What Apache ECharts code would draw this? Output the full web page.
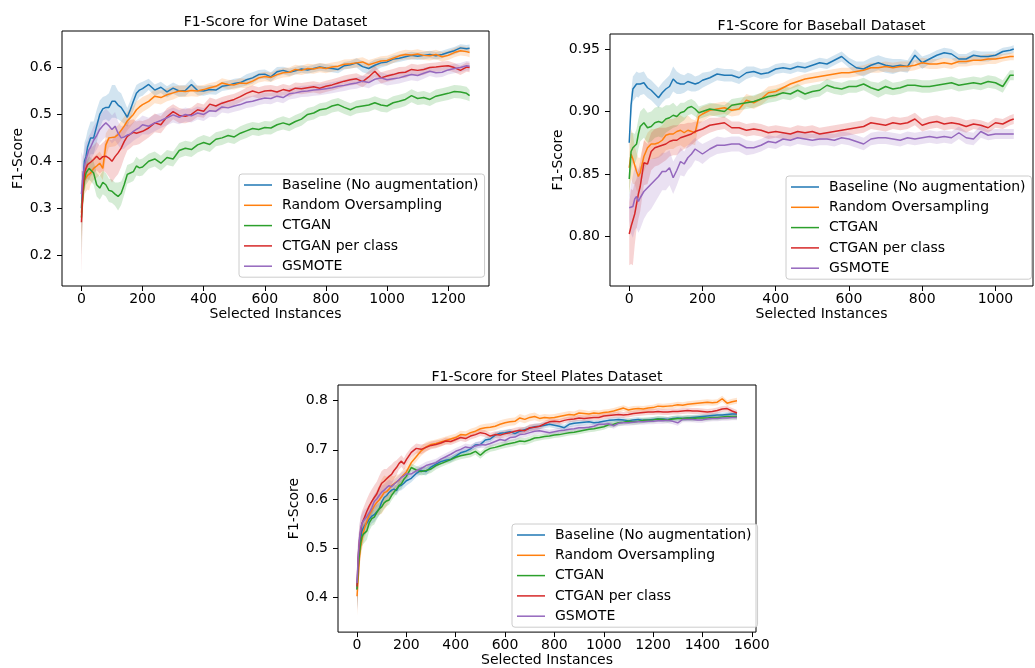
<!DOCTYPE html>
<html>
<head>
<meta charset="utf-8">
<script src="https://cdn.jsdelivr.net/npm/echarts@6/dist/echarts.min.js"></script>
<style>
  html, body { margin: 0; padding: 0; background: #fff; }
  #chart { width: 1035px; height: 668px; }
</style>
</head>
<body>
<div id="chart"></div>
<script>
// F1-Score curves (mean line + shaded spread) for three datasets
var methods = ['Baseline (No augmentation)', 'Random Oversampling', 'CTGAN', 'CTGAN per class', 'GSMOTE'];
var colors = ['#1f77b4', '#ff7f0e', '#2ca02c', '#d62728', '#9467bd'];

// ---- Wine ----
var wineX = [0,5,10,15,20,25,30,40,50,60,
  70,80,90,100,110,120,130,140,150,160,
  170,180,190,200,220,240,260,280,300,320,
  340,360,380,400,420,440,460,480,500,520,
  540,560,580,600,620,640,660,680,700,720,
  740,760,780,800,820,840,860,880,900,920,
  940,960,980,1000,1020,1040,1060,1080,1100,1120,
  1140,1160,1180,1200,1220,1240,1260,1270];
var wineBase = [0.30,0.36,0.40,0.41,0.43,0.44,0.45,0.45,0.475,0.50,
  0.512,0.515,0.515,0.528,0.528,0.52,0.515,0.505,0.494,0.51,
  0.528,0.545,0.552,0.555,0.564,0.552,0.558,0.548,0.556,0.55,
  0.551,0.564,0.551,0.55,0.553,0.552,0.56,0.562,0.566,0.568,
  0.574,0.578,0.585,0.586,0.58,0.591,0.594,0.59,0.593,0.597,
  0.595,0.598,0.601,0.599,0.598,0.596,0.604,0.606,0.61,0.602,
  0.598,0.605,0.61,0.612,0.618,0.62,0.623,0.626,0.624,0.626,
  0.628,0.625,0.628,0.632,0.636,0.642,0.64,0.641];
var wineRos = [0.29,0.33,0.36,0.365,0.37,0.368,0.375,0.385,0.39,0.396,
  0.385,0.435,0.45,0.451,0.452,0.457,0.466,0.475,0.486,0.493,
  0.5,0.51,0.516,0.521,0.528,0.539,0.536,0.542,0.546,0.55,
  0.549,0.551,0.55,0.553,0.557,0.56,0.567,0.564,0.563,0.567,
  0.566,0.571,0.578,0.581,0.579,0.585,0.589,0.59,0.596,0.594,
  0.598,0.597,0.6,0.598,0.601,0.603,0.607,0.608,0.61,0.612,
  0.606,0.61,0.614,0.615,0.62,0.625,0.628,0.627,0.629,0.626,
  0.625,0.628,0.623,0.626,0.632,0.636,0.634,0.632];
var wineCtgan = [0.28,0.33,0.36,0.375,0.38,0.385,0.383,0.375,0.35,0.343,
  0.355,0.35,0.338,0.336,0.33,0.325,0.332,0.35,0.372,0.375,
  0.378,0.39,0.386,0.388,0.4,0.405,0.396,0.408,0.405,0.423,
  0.428,0.425,0.435,0.44,0.436,0.447,0.45,0.455,0.452,0.46,
  0.465,0.47,0.468,0.472,0.471,0.478,0.482,0.478,0.485,0.49,
  0.5,0.503,0.51,0.512,0.518,0.521,0.515,0.51,0.516,0.518,
  0.52,0.525,0.52,0.518,0.525,0.528,0.532,0.54,0.534,0.536,
  0.532,0.539,0.542,0.545,0.549,0.548,0.545,0.54];
var wineCtganCls = [0.27,0.34,0.375,0.385,0.393,0.39,0.398,0.404,0.411,0.404,
  0.41,0.411,0.407,0.4,0.41,0.418,0.428,0.442,0.453,0.458,
  0.462,0.46,0.462,0.464,0.471,0.482,0.478,0.495,0.506,0.498,
  0.496,0.5,0.51,0.507,0.522,0.518,0.524,0.528,0.532,0.538,
  0.545,0.55,0.546,0.55,0.551,0.548,0.553,0.55,0.556,0.555,
  0.557,0.559,0.556,0.56,0.563,0.567,0.571,0.574,0.576,0.57,
  0.58,0.592,0.578,0.582,0.585,0.589,0.59,0.596,0.594,0.596,
  0.6,0.601,0.603,0.604,0.6,0.594,0.601,0.6];
var wineGsmote = [0.33,0.37,0.39,0.405,0.415,0.425,0.43,0.445,0.455,0.468,
  0.476,0.482,0.476,0.468,0.475,0.46,0.45,0.452,0.456,0.458,
  0.464,0.468,0.472,0.478,0.475,0.482,0.487,0.493,0.499,0.494,
  0.5,0.497,0.503,0.5,0.508,0.507,0.516,0.514,0.518,0.521,
  0.526,0.528,0.532,0.535,0.534,0.539,0.536,0.544,0.546,0.549,
  0.55,0.552,0.553,0.555,0.557,0.56,0.562,0.565,0.567,0.571,
  0.568,0.575,0.578,0.574,0.576,0.578,0.582,0.585,0.583,0.588,
  0.592,0.589,0.59,0.595,0.598,0.6,0.604,0.603];
// half width of the shaded band
var wineBaseHw = [.03,.045,.04,.04,.035,.035,.035,.035,.035,.03,
  .025,.025,.03,.035,.035,.03,.03,.025,.02,.02,
  .02,.018,.015,.015,.012,.012,.012,.012,.012,.012,
  .012,.012,.01,.01,.01,.01,.01,.01,.01,.01,
  .012,.012,.01,.01,.01,.01,.008,.008,.008,.008,
  .008,.008,.008,.008,.008,.008,.008,.008,.01,.012,
  .012,.012,.01,.008,.008,.008,.008,.008,.008,.008,
  .008,.008,.008,.008,.008,.008,.008,.008];
var wineRosHw = [.06,.03,.03,.03,.03,.03,.025,.025,.025,.025,
  .025,.025,.02,.02,.02,.02,.02,.02,.02,.02,
  .018,.018,.016,.016,.015,.015,.015,.014,.014,.012,
  .012,.012,.012,.01,.01,.01,.01,.01,.01,.01,
  .01,.01,.01,.01,.01,.01,.01,.01,.01,.01,
  .01,.01,.01,.01,.01,.01,.01,.01,.01,.01,
  .01,.01,.01,.01,.01,.01,.01,.01,.01,.01,
  .01,.01,.01,.01,.01,.01,.01,.01];
var wineCtganHw = [.08,.03,.025,.025,.025,.025,.025,.025,.025,.025,
  .025,.025,.025,.025,.025,.03,.025,.022,.02,.02,
  .02,.02,.018,.018,.016,.016,.016,.016,.016,.016,
  .016,.016,.016,.016,.016,.015,.015,.015,.015,.015,
  .015,.014,.014,.014,.014,.014,.014,.014,.014,.014,
  .014,.014,.014,.014,.014,.014,.014,.014,.014,.014,
  .014,.014,.014,.014,.014,.014,.014,.014,.014,.014,
  .014,.014,.014,.014,.014,.014,.014,.012];
var wineCtganClsHw = [.11,.04,.03,.03,.03,.03,.03,.03,.03,.03,
  .03,.035,.04,.045,.045,.045,.04,.035,.03,.03,
  .028,.025,.025,.022,.02,.02,.018,.018,.016,.016,
  .015,.015,.015,.014,.014,.014,.013,.013,.012,.012,
  .012,.012,.012,.012,.012,.012,.012,.012,.012,.012,
  .012,.012,.012,.012,.012,.012,.012,.012,.012,.012,
  .012,.012,.012,.012,.012,.012,.012,.012,.012,.012,
  .01,.01,.01,.01,.01,.01,.01,.01];
var wineGsmoteHw = [.09,.04,.035,.035,.03,.03,.03,.03,.03,.03,
  .03,.03,.03,.03,.03,.025,.025,.025,.022,.02,
  .02,.02,.02,.02,.018,.018,.016,.016,.016,.015,
  .015,.014,.014,.014,.013,.013,.012,.012,.012,.012,
  .012,.012,.012,.012,.012,.012,.012,.012,.012,.012,
  .012,.012,.012,.012,.012,.012,.012,.012,.012,.012,
  .012,.012,.012,.012,.012,.012,.012,.012,.012,.012,
  .01,.01,.01,.01,.01,.01,.01,.01];
var wineXTicks = [0,200,400,600,800,1000,1200];
var wineYTicks = [0.2,0.3,0.4,0.5,0.6];

// ---- Baseball ----
var bbX = [0,5,10,15,20,25,30,40,50,60,
  70,80,90,100,110,120,130,140,150,160,
  170,180,190,200,220,240,260,280,300,320,
  340,360,380,400,420,440,460,480,500,520,
  540,560,580,600,620,640,660,680,700,720,
  740,760,780,800,820,840,860,880,900,920,
  940,960,980,1000,1020,1040,1050];
var bbBase = [0.875,0.905,0.918,0.92,0.922,0.921,0.922,0.923,0.919,0.917,
  0.914,0.911,0.915,0.918,0.92,0.926,0.923,0.922,0.922,0.924,
  0.923,0.922,0.923,0.925,0.927,0.93,0.929,0.929,0.927,0.931,
  0.932,0.93,0.931,0.934,0.935,0.934,0.936,0.935,0.937,0.939,
  0.938,0.941,0.944,0.939,0.935,0.934,0.937,0.939,0.937,0.936,
  0.937,0.936,0.945,0.939,0.942,0.945,0.947,0.946,0.942,0.942,
  0.945,0.944,0.944,0.945,0.948,0.949,0.95];
var bbRos = [0.855,0.866,0.862,0.857,0.852,0.848,0.851,0.864,0.871,0.874,
  0.874,0.875,0.877,0.881,0.882,0.882,0.884,0.885,0.883,0.885,
  0.884,0.883,0.896,0.898,0.901,0.902,0.903,0.901,0.902,0.909,
  0.907,0.91,0.915,0.916,0.919,0.922,0.924,0.926,0.927,0.928,
  0.929,0.93,0.931,0.931,0.932,0.933,0.935,0.935,0.936,0.935,
  0.936,0.936,0.937,0.939,0.938,0.938,0.939,0.938,0.94,0.94,
  0.941,0.941,0.942,0.942,0.943,0.944,0.944];
var bbCtgan = [0.846,0.868,0.871,0.87,0.874,0.882,0.888,0.891,0.887,0.888,
  0.891,0.892,0.891,0.894,0.895,0.897,0.896,0.899,0.9,0.903,
  0.904,0.902,0.899,0.9,0.902,0.901,0.9,0.905,0.906,0.907,
  0.908,0.91,0.912,0.913,0.915,0.914,0.917,0.914,0.916,0.917,
  0.921,0.919,0.918,0.92,0.92,0.922,0.919,0.917,0.92,0.918,
  0.919,0.921,0.921,0.92,0.92,0.921,0.922,0.923,0.921,0.922,
  0.923,0.922,0.924,0.923,0.92,0.929,0.929];
var bbCtganCls = [0.802,0.808,0.807,0.818,0.826,0.834,0.84,0.859,0.858,0.868,
  0.871,0.872,0.873,0.874,0.876,0.877,0.877,0.879,0.88,0.881,
  0.882,0.884,0.885,0.886,0.889,0.89,0.891,0.887,0.887,0.885,
  0.886,0.885,0.883,0.884,0.883,0.882,0.884,0.883,0.884,0.882,
  0.883,0.884,0.885,0.886,0.887,0.888,0.891,0.89,0.889,0.891,
  0.89,0.891,0.894,0.889,0.891,0.892,0.89,0.891,0.89,0.888,
  0.89,0.889,0.887,0.891,0.89,0.893,0.894];
var bbGsmote = [0.823,0.822,0.824,0.83,0.832,0.828,0.831,0.836,0.839,0.842,
  0.845,0.848,0.852,0.852,0.855,0.847,0.853,0.86,0.858,0.863,
  0.866,0.87,0.868,0.866,0.87,0.873,0.873,0.874,0.874,0.871,
  0.871,0.873,0.876,0.875,0.878,0.877,0.879,0.878,0.877,0.878,
  0.878,0.877,0.879,0.878,0.876,0.874,0.878,0.879,0.879,0.878,
  0.877,0.879,0.878,0.879,0.88,0.879,0.88,0.879,0.883,0.879,
  0.878,0.884,0.881,0.882,0.882,0.882,0.882];
var bbBaseHw = [.006,.01,.01,.01,.01,.01,.009,.009,.008,.008,
  .008,.008,.008,.008,.009,.01,.009,.008,.007,.007,
  .007,.006,.006,.006,.005,.005,.005,.005,.005,.005,
  .004,.004,.004,.004,.004,.004,.004,.004,.004,.004,
  .004,.004,.004,.004,.005,.006,.006,.006,.006,.006,
  .005,.005,.005,.005,.004,.004,.004,.004,.004,.004,
  .004,.004,.004,.003,.003,.003,.003];
var bbRosHw = [.02,.02,.02,.015,.015,.015,.012,.012,.012,.012,
  .012,.012,.012,.012,.012,.012,.012,.012,.012,.012,
  .01,.01,.006,.006,.005,.005,.005,.005,.005,.005,
  .005,.005,.005,.005,.004,.004,.004,.004,.004,.004,
  .004,.004,.004,.004,.004,.004,.004,.004,.004,.004,
  .004,.004,.004,.004,.004,.004,.004,.004,.004,.004,
  .004,.004,.004,.004,.003,.003,.003];
var bbCtganHw = [.015,.015,.012,.012,.012,.012,.012,.012,.012,.012,
  .012,.012,.012,.011,.01,.01,.008,.008,.007,.006,
  .006,.006,.005,.005,.005,.005,.005,.005,.005,.005,
  .005,.005,.005,.005,.005,.005,.005,.005,.005,.005,
  .005,.005,.005,.005,.005,.005,.005,.006,.006,.005,
  .005,.005,.005,.005,.005,.005,.005,.005,.005,.005,
  .005,.005,.005,.005,.005,.004,.004];
var bbCtganClsHw = [.025,.03,.03,.025,.02,.02,.02,.018,.016,.015,
  .015,.015,.014,.013,.012,.012,.012,.011,.01,.01,
  .009,.008,.007,.006,.006,.005,.005,.005,.005,.005,
  .005,.005,.005,.005,.005,.005,.005,.005,.005,.005,
  .005,.005,.005,.005,.005,.005,.005,.005,.005,.005,
  .005,.005,.005,.005,.005,.005,.005,.005,.005,.005,
  .004,.004,.004,.004,.004,.004,.004];
var bbGsmoteHw = [.01,.02,.025,.025,.025,.025,.025,.022,.02,.02,
  .018,.016,.015,.015,.014,.013,.012,.011,.01,.01,
  .01,.009,.008,.008,.007,.007,.006,.006,.006,.006,
  .005,.005,.005,.005,.005,.005,.005,.005,.005,.005,
  .005,.005,.005,.005,.005,.005,.005,.005,.005,.005,
  .005,.005,.005,.005,.005,.005,.005,.005,.005,.005,
  .005,.005,.004,.004,.004,.004,.004];
var bbXTicks = [0,200,400,600,800,1000];
var bbYTicks = [0.80,0.85,0.90,0.95];

// ---- Steel Plates ----
var stX = [0,5,10,15,20,25,30,40,50,60,
  70,80,90,100,110,120,130,140,150,160,
  170,180,190,200,220,240,260,280,300,320,
  340,360,380,400,420,440,460,480,500,520,
  540,560,580,600,620,640,660,680,700,720,
  740,760,780,800,820,840,860,880,900,920,
  940,960,980,1000,1020,1040,1060,1080,1100,1120,
  1140,1160,1180,1200,1220,1240,1260,1280,1300,1320,
  1340,1360,1380,1400,1420,1440,1460,1480,1500,1520,
  1540];
var stBase = [0.415,0.47,0.505,0.52,0.535,0.54,0.545,0.551,0.559,0.565,
  0.568,0.574,0.58,0.594,0.603,0.607,0.613,0.618,0.62,0.617,
  0.626,0.628,0.632,0.637,0.642,0.652,0.658,0.656,0.665,0.671,
  0.676,0.679,0.681,0.687,0.694,0.697,0.702,0.71,0.711,0.72,
  0.722,0.73,0.734,0.735,0.737,0.733,0.738,0.741,0.744,0.747,
  0.748,0.75,0.752,0.75,0.748,0.745,0.752,0.754,0.755,0.756,
  0.757,0.755,0.756,0.758,0.76,0.761,0.762,0.761,0.759,0.761,
  0.762,0.76,0.761,0.762,0.763,0.763,0.762,0.764,0.765,0.764,
  0.765,0.766,0.767,0.768,0.769,0.77,0.771,0.771,0.772,0.773,
  0.773];
var stRos = [0.402,0.44,0.48,0.503,0.516,0.53,0.54,0.555,0.568,0.577,
  0.586,0.593,0.598,0.605,0.613,0.615,0.62,0.627,0.631,0.635,
  0.638,0.644,0.65,0.655,0.674,0.686,0.698,0.706,0.711,0.713,
  0.716,0.719,0.722,0.725,0.731,0.73,0.735,0.738,0.743,0.745,
  0.746,0.748,0.752,0.755,0.757,0.758,0.765,0.762,0.766,0.768,
  0.764,0.766,0.765,0.766,0.768,0.77,0.772,0.771,0.775,0.774,
  0.773,0.775,0.774,0.776,0.777,0.779,0.782,0.785,0.781,0.783,
  0.784,0.783,0.785,0.786,0.789,0.788,0.789,0.79,0.792,0.791,
  0.793,0.794,0.795,0.796,0.797,0.796,0.797,0.804,0.795,0.798,
  0.8];
var stCtgan = [0.416,0.46,0.49,0.51,0.523,0.528,0.531,0.535,0.552,0.56,
  0.563,0.572,0.58,0.584,0.592,0.596,0.598,0.607,0.614,0.62,
  0.627,0.631,0.64,0.646,0.664,0.659,0.656,0.658,0.661,0.668,
  0.672,0.676,0.68,0.685,0.688,0.69,0.692,0.697,0.689,0.698,
  0.703,0.705,0.708,0.711,0.713,0.715,0.718,0.717,0.72,0.724,
  0.725,0.727,0.728,0.73,0.731,0.733,0.735,0.736,0.738,0.74,
  0.742,0.743,0.745,0.747,0.751,0.752,0.755,0.756,0.758,0.757,
  0.758,0.76,0.76,0.761,0.763,0.762,0.761,0.763,0.764,0.764,
  0.765,0.764,0.765,0.765,0.765,0.766,0.766,0.767,0.768,0.768,
  0.768];
var stCtganCls = [0.422,0.48,0.515,0.535,0.55,0.556,0.562,0.575,0.586,0.595,
  0.603,0.61,0.622,0.632,0.636,0.641,0.646,0.65,0.658,0.664,
  0.672,0.677,0.671,0.68,0.695,0.703,0.701,0.705,0.709,0.711,
  0.714,0.718,0.717,0.721,0.725,0.723,0.728,0.731,0.735,0.733,
  0.728,0.731,0.73,0.733,0.735,0.738,0.74,0.739,0.745,0.746,
  0.748,0.753,0.757,0.758,0.757,0.76,0.762,0.763,0.765,0.764,
  0.765,0.766,0.766,0.769,0.77,0.771,0.772,0.771,0.772,0.774,
  0.775,0.776,0.777,0.777,0.778,0.777,0.777,0.778,0.778,0.779,
  0.78,0.779,0.779,0.778,0.777,0.778,0.78,0.783,0.784,0.779,
  0.775];
var stGsmote = [0.429,0.485,0.52,0.54,0.55,0.555,0.558,0.564,0.572,0.582,
  0.595,0.6,0.607,0.614,0.618,0.623,0.627,0.625,0.63,0.634,
  0.639,0.644,0.647,0.651,0.651,0.657,0.662,0.668,0.671,0.674,
  0.681,0.686,0.691,0.697,0.701,0.706,0.704,0.708,0.711,0.71,
  0.713,0.717,0.721,0.719,0.725,0.726,0.731,0.732,0.735,0.738,
  0.739,0.737,0.735,0.737,0.739,0.74,0.742,0.743,0.745,0.745,
  0.746,0.748,0.752,0.752,0.753,0.749,0.754,0.755,0.755,0.756,
  0.757,0.757,0.758,0.758,0.759,0.759,0.76,0.758,0.755,0.762,
  0.762,0.762,0.761,0.761,0.763,0.764,0.764,0.765,0.765,0.766,
  0.766];
var stBaseHw = [.04,.03,.025,.02,.02,.02,.02,.018,.016,.015,
  .015,.014,.013,.012,.012,.012,.012,.011,.01,.01,
  .01,.01,.01,.01,.008,.008,.008,.008,.007,.007,
  .006,.006,.006,.006,.006,.006,.006,.006,.006,.006,
  .006,.006,.006,.006,.006,.006,.006,.006,.006,.006,
  .006,.006,.006,.006,.006,.006,.006,.006,.006,.006,
  .005,.005,.005,.005,.005,.005,.005,.005,.005,.005,
  .005,.005,.005,.005,.005,.005,.005,.005,.005,.005,
  .005,.005,.005,.005,.005,.005,.005,.005,.005,.005,
  .005];
var stRosHw = [.04,.03,.025,.02,.02,.02,.02,.02,.02,.02,
  .02,.025,.03,.035,.035,.03,.025,.02,.015,.015,
  .012,.012,.012,.012,.01,.01,.01,.01,.008,.008,
  .008,.008,.008,.008,.008,.008,.008,.008,.008,.008,
  .008,.008,.008,.008,.008,.008,.008,.008,.008,.008,
  .007,.007,.007,.007,.007,.007,.007,.007,.007,.007,
  .006,.006,.006,.006,.006,.006,.006,.006,.006,.006,
  .006,.006,.006,.006,.006,.006,.006,.006,.006,.006,
  .006,.006,.006,.006,.006,.006,.006,.006,.006,.006,
  .006];
var stCtganHw = [.04,.03,.02,.02,.02,.02,.02,.018,.016,.015,
  .015,.014,.013,.012,.012,.011,.01,.01,.01,.01,
  .01,.01,.01,.01,.008,.008,.008,.008,.008,.008,
  .007,.007,.007,.007,.007,.007,.007,.007,.007,.007,
  .007,.007,.007,.007,.007,.007,.007,.007,.007,.007,
  .006,.006,.006,.006,.006,.006,.006,.006,.006,.006,
  .006,.006,.006,.006,.006,.006,.006,.006,.006,.006,
  .006,.006,.006,.006,.006,.006,.006,.006,.006,.006,
  .006,.006,.006,.006,.006,.006,.006,.006,.006,.006,
  .006];
var stCtganClsHw = [.05,.035,.03,.03,.025,.025,.025,.025,.025,.025,
  .025,.025,.025,.025,.025,.02,.02,.02,.018,.015,
  .012,.012,.012,.012,.01,.01,.01,.008,.008,.008,
  .007,.007,.007,.007,.007,.007,.007,.007,.007,.007,
  .007,.007,.007,.007,.007,.007,.007,.007,.007,.007,
  .006,.006,.006,.006,.006,.006,.006,.006,.006,.006,
  .006,.006,.006,.006,.006,.006,.006,.006,.006,.006,
  .006,.006,.006,.006,.006,.006,.006,.006,.006,.006,
  .006,.006,.006,.006,.006,.006,.006,.006,.006,.006,
  .006];
var stGsmoteHw = [.06,.035,.03,.025,.02,.02,.02,.018,.016,.016,
  .015,.015,.014,.013,.012,.012,.012,.011,.01,.01,
  .01,.01,.01,.01,.008,.008,.008,.008,.008,.008,
  .007,.007,.007,.007,.007,.007,.007,.007,.007,.007,
  .007,.007,.007,.007,.007,.007,.007,.007,.007,.007,
  .006,.006,.006,.006,.006,.006,.006,.006,.006,.006,
  .006,.006,.006,.006,.006,.006,.006,.006,.006,.006,
  .006,.006,.006,.006,.006,.006,.006,.006,.006,.006,
  .006,.006,.006,.006,.006,.006,.006,.006,.006,.006,
  .006];
var stXTicks = [0,200,400,600,800,1000,1200,1400,1600];
var stYTicks = [0.4,0.5,0.6,0.7,0.8];

// layout of the three panels (pixels)
var panels = [
  { title: 'F1-Score for Wine Dataset', xs: wineX,
    means: [wineBase, wineRos, wineCtgan, wineCtganCls, wineGsmote],
    hws: [wineBaseHw, wineRosHw, wineCtganHw, wineCtganClsHw, wineGsmoteHw],
    grid: { left: 62, top: 31, width: 427, height: 255 },
    xMin: -63.5, xMax: 1333.5, xTicks: wineXTicks,
    yMin: 0.134, yMax: 0.678, yTicks: wineYTicks, digits: 1,
    titleTop: 15, legend: { left: 239, top: 174 }, yGap: 28 },
  { title: 'F1-Score for Baseball Dataset', xs: bbX,
    means: [bbBase, bbRos, bbCtgan, bbCtganCls, bbGsmote],
    hws: [bbBaseHw, bbRosHw, bbCtganHw, bbCtganClsHw, bbGsmoteHw],
    grid: { left: 610, top: 34, width: 423, height: 252 },
    xMin: -52.5, xMax: 1102.5, xTicks: bbXTicks,
    yMin: 0.7604, yMax: 0.962, yTicks: bbYTicks, digits: 2,
    titleTop: 19, legend: { left: 786, top: 176 }, yGap: 38 },
  { title: 'F1-Score for Steel Plates Dataset', xs: stX,
    means: [stBase, stRos, stCtgan, stCtganCls, stGsmote],
    hws: [stBaseHw, stRosHw, stCtganHw, stCtganClsHw, stGsmoteHw],
    grid: { left: 338, top: 385, width: 418, height: 249 },
    xMin: -77, xMax: 1617, xTicks: stXTicks,
    yMin: 0.329, yMax: 0.832, yTicks: stYTicks, digits: 1,
    titleTop: 370, legend: { left: 512, top: 524 }, yGap: 28 }
];

var FONT = 'DejaVu Sans';

function fade(hex, a) {
  var n = parseInt(hex.slice(1), 16);
  return 'rgba(' + (n >> 16) + ',' + ((n >> 8) & 255) + ',' + (n & 255) + ',' + a + ')';
}

var grids = [], xAxes = [], yAxes = [], titles = [], legends = [], series = [];

panels.forEach(function (p, i) {
  grids.push({ left: p.grid.left, top: p.grid.top, width: p.grid.width, height: p.grid.height,
    show: true, borderColor: '#000', borderWidth: 1, backgroundColor: 'transparent' });
  titles.push({ text: p.title, left: p.grid.left + p.grid.width / 2, top: p.titleTop, textAlign: 'center', padding: 0,
    textStyle: { fontFamily: FONT, fontSize: 14, fontWeight: 'normal', color: '#000' } });
  xAxes.push({ gridIndex: i, type: 'value', min: p.xMin, max: p.xMax,
    splitLine: { show: false }, axisLine: { show: false, onZero: false },
    axisTick: { show: true, length: 5, customValues: p.xTicks, lineStyle: { color: '#000' } },
    axisLabel: { customValues: p.xTicks, color: '#000', fontFamily: FONT, fontSize: 14, margin: 6,
      formatter: function (v) { return String(v); } },
    name: 'Selected Instances', nameLocation: 'middle', nameGap: 20,
    nameTextStyle: { fontFamily: FONT, fontSize: 14, color: '#000' } });
  yAxes.push({ gridIndex: i, type: 'value', min: p.yMin, max: p.yMax,
    splitLine: { show: false }, axisLine: { show: false, onZero: false },
    axisTick: { show: true, length: 5, customValues: p.yTicks, lineStyle: { color: '#000' } },
    axisLabel: { customValues: p.yTicks, color: '#000', fontFamily: FONT, fontSize: 14, margin: 10,
      formatter: (function (d) { return function (v) { return v.toFixed(d); }; })(p.digits) },
    name: 'F1-Score', nameLocation: 'middle', nameGap: p.yGap,
    nameTextStyle: { fontFamily: FONT, fontSize: 14, color: '#000' } });
  legends.push({ left: p.legend.left, top: p.legend.top, orient: 'vertical', data: methods,
    icon: 'path://M0,0H28V1.5H0Z',
    itemWidth: 28, itemHeight: 16, itemGap: 4.3, padding: [3, 6, 3, 5], selectedMode: false,
    backgroundColor: 'rgba(255,255,255,0.8)', borderColor: '#cccccc', borderWidth: 1, borderRadius: 3,
    textStyle: { fontFamily: FONT, fontSize: 14, color: '#000', lineHeight: 16, padding: [0, 0, 0, 5] } });

  p.means.forEach(function (m, j) {
    var hw = p.hws[j];
    var band = p.xs.map(function (x, k) { return [x, m[k] - hw[k], m[k] + hw[k]]; });
    series.push({ type: 'custom', xAxisIndex: i, yAxisIndex: i, silent: true, z: 1,
      data: band, encode: { x: 0, y: [1, 2] },
      renderItem: (function (rows, col) {
        return function (params, api) {
          if (params.dataIndex !== 0) return null;
          var pts = [];
          for (var k = 0; k < rows.length; k++) pts.push(api.coord([rows[k][0], rows[k][1]]));
          for (var k2 = rows.length - 1; k2 >= 0; k2--) pts.push(api.coord([rows[k2][0], rows[k2][2]]));
          return { type: 'polygon', shape: { points: pts }, style: { fill: col, stroke: null } };
        };
      })(band, fade(colors[j], 0.2)) });
    series.push({ name: methods[j], type: 'line', xAxisIndex: i, yAxisIndex: i, z: 3,
      data: p.xs.map(function (x, k) { return [x, m[k]]; }),
      symbol: 'none', showSymbol: false, silent: true,
      lineStyle: { color: colors[j], width: 1.5 }, itemStyle: { color: colors[j] } });
  });
});

var chart = echarts.init(document.getElementById('chart'));
chart.setOption({
  animation: false,
  backgroundColor: '#fff',
  title: titles,
  legend: legends,
  grid: grids,
  xAxis: xAxes,
  yAxis: yAxes,
  series: series
});
</script>
</body>
</html>
